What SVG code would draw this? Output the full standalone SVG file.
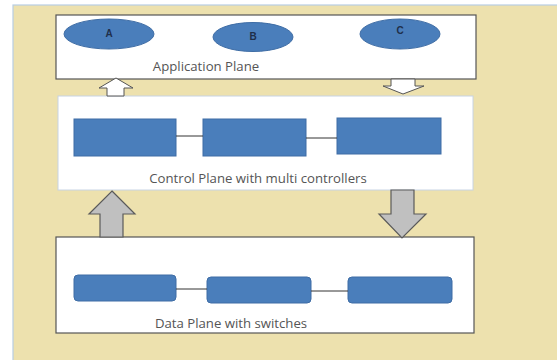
<svg xmlns="http://www.w3.org/2000/svg" width="557" height="360" viewBox="0 0 557 360">
<style>
.plane{fill:#ffffff}
.blue{fill:#4a7ebb;stroke:#3f6da5;stroke-width:1}
.lbl{font-family:"Open Sans","Liberation Sans",sans-serif;font-size:13.2px;fill:#555555;text-anchor:middle}
.let{font-family:"Liberation Sans",sans-serif;font-size:10px;font-weight:bold;fill:#1f2f4a;text-anchor:middle}
.link{stroke:#333333;stroke-width:1;fill:none}
.warr{fill:#ffffff;stroke:#555555;stroke-width:1}
.garr{fill:#c0c0c0;stroke:#5a5a5a;stroke-width:1.2}
</style>
<rect x="0" y="0" width="557" height="360" fill="#ffffff"/>
<rect x="13" y="5" width="560" height="370" fill="#ede1ae" stroke="#b8cde3" stroke-width="1.2"/>
<g id="app-plane">
<rect class="plane" x="56" y="15" width="420" height="64" stroke="#555555" stroke-width="1.2"/>
<text class="lbl" x="206" y="71">Application Plane</text>
</g>
<g id="app-A"><ellipse class="blue" cx="109" cy="34" rx="45" ry="15"/><text class="let" x="109" y="37">A</text></g>
<g id="app-B"><ellipse class="blue" cx="253" cy="37" rx="40" ry="14.5"/><text class="let" x="253" y="40">B</text></g>
<g id="app-C"><ellipse class="blue" cx="400" cy="34" rx="40" ry="15"/><text class="let" x="400" y="34">C</text></g>
<g id="control-plane">
<rect class="plane" x="58" y="96" width="415" height="94" stroke="#c8d4e4" stroke-width="1"/>
<text class="lbl" x="258" y="183">Control Plane with multi controllers</text>
</g>
<g id="ctrl-1"><rect class="blue" x="74" y="119" width="102" height="37"/></g>
<g id="ctrl-2"><rect class="blue" x="203" y="119" width="103" height="37"/></g>
<g id="ctrl-3"><rect class="blue" x="337" y="118" width="104" height="36"/></g>
<g id="data-plane">
<rect class="plane" x="56" y="237" width="418" height="96" stroke="#555555" stroke-width="1.2"/>
<text class="lbl" x="231" y="328">Data Plane with switches</text>
</g>
<g id="sw-1"><rect class="blue" x="74" y="275" width="102" height="26" rx="4"/></g>
<g id="sw-2"><rect class="blue" x="207" y="277" width="104" height="26" rx="4"/></g>
<g id="sw-3"><rect class="blue" x="348" y="277" width="104" height="26" rx="4"/></g>
<g id="connectors">
<line class="link" x1="176" y1="136" x2="203" y2="136"/>
<line class="link" x1="306" y1="138" x2="337" y2="138"/>
<line class="link" x1="176" y1="289" x2="207" y2="289"/>
<line class="link" x1="311" y1="291" x2="348" y2="291"/>
<polygon class="warr" points="116,78 133,88 124,88 124,96 107,96 107,88 99,88"/>
<polygon class="warr" points="391,79 415,79 415,86 424,86 403,94 383,86 391,86"/>
<polygon class="garr" points="112,191 135,214 123,214 123,237 100,237 100,214 89,214"/>
<polygon class="garr" points="391,190 414,190 414,214 426,214 402,238 379,214 391,214"/>
</g>
</svg>
